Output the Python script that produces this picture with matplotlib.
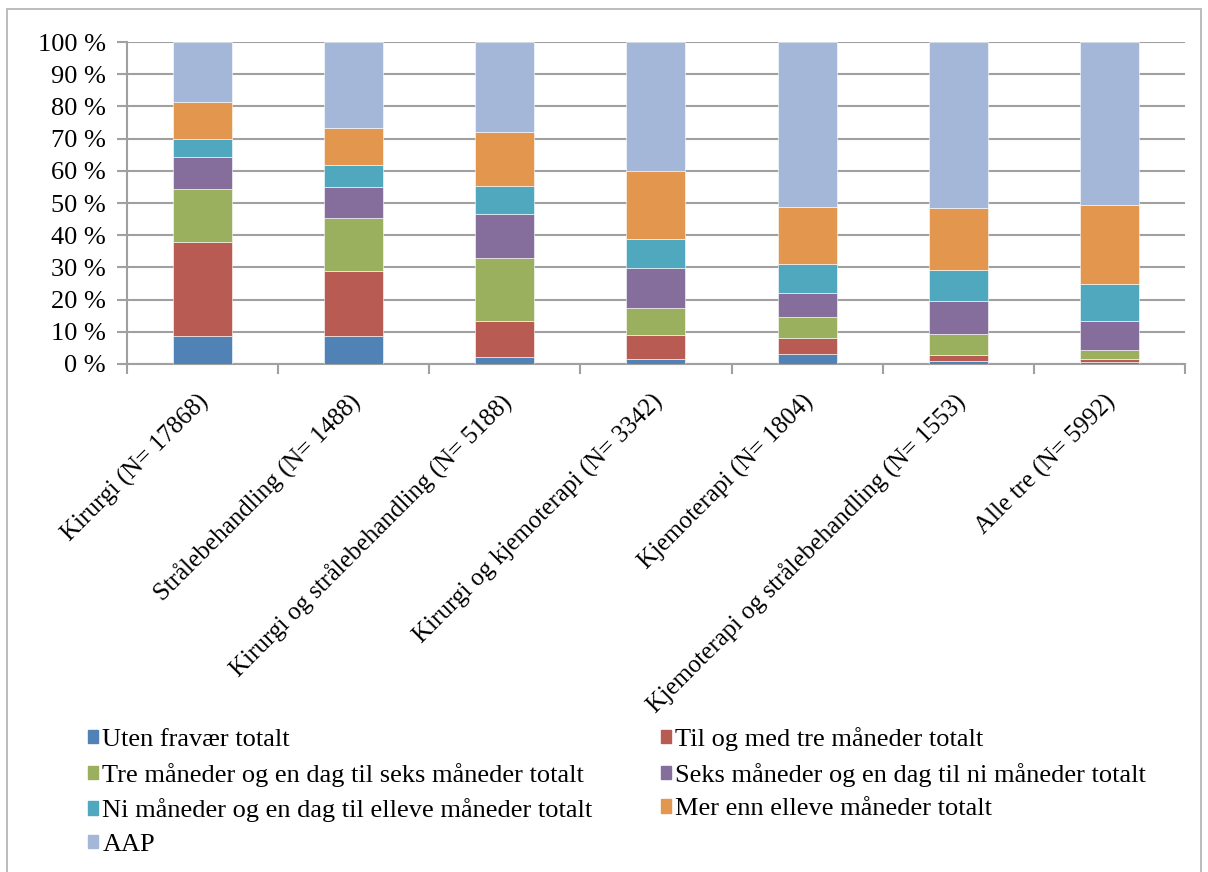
import numpy as np
import matplotlib
matplotlib.use('Agg')
import matplotlib.pyplot as plt
import matplotlib.transforms as mtransforms
from matplotlib.patches import Rectangle, Patch

plt.rcParams['font.family'] = 'Liberation Serif'

# categories and series (percent of each group)
categories = ['Kirurgi (N= 17868)', 'Strålebehandling (N= 1488)',
              'Kirurgi og strålebehandling (N= 5188)', 'Kirurgi og kjemoterapi (N= 3342)',
              'Kjemoterapi (N= 1804)', 'Kjemoterapi og strålebehandling (N= 1553)',
              'Alle tre (N= 5992)']
series_names = ['Uten fravær totalt', 'Til og med tre måneder totalt',
                'Tre måneder og en dag til seks måneder totalt',
                'Seks måneder og en dag til ni måneder totalt',
                'Ni måneder og en dag til elleve måneder totalt',
                'Mer enn elleve måneder totalt', 'AAP']
uten = [8.8, 8.7, 2.1, 1.5, 3.2, 1.0, 0.6]
til_tre = [29.0, 20.2, 11.2, 7.5, 4.8, 1.8, 1.0]
tre_seks = [16.5, 16.5, 19.7, 8.5, 6.6, 6.6, 2.6]
seks_ni = [10.0, 9.7, 13.7, 12.3, 7.4, 10.2, 9.2]
ni_elleve = [5.6, 6.8, 8.6, 9.1, 9.0, 9.7, 11.4]
mer_elleve = [11.4, 11.3, 16.6, 21.1, 17.9, 19.0, 24.5]
aap = [18.7, 26.8, 28.1, 40.0, 51.1, 51.7, 50.7]
colors = ['#5182B5', '#B85B52', '#9BB05E', '#866E9C', '#50A8BF', '#E2964E', '#A4B7D8']

fig = plt.figure(figsize=(12.08, 8.72), dpi=100)
ax = fig.add_axes([0.105, 0.5826, 0.876, 0.3692])

x = np.arange(len(categories))
bottom = np.zeros(len(categories))
for vals, name, c in zip([uten, til_tre, tre_seks, seks_ni, ni_elleve, mer_elleve, aap],
                         series_names, colors):
    ax.bar(x, vals, 0.39, bottom=bottom, color=c, edgecolor='white', linewidth=0.4,
           label=name, zorder=3)
    bottom += np.array(vals)

ax.set_xlim(-0.5, len(categories) - 0.5)
ax.set_ylim(0, 100)
ax.set_yticks(np.arange(0, 101, 10))
ax.set_yticklabels([f'{v} %' for v in range(0, 101, 10)], fontsize=19)
ax.yaxis.grid(True, color='#A0A0A0', linewidth=1.5, zorder=0)
ax.set_xticks(x)
ax.set_xticklabels(categories, rotation=45, ha='right', rotation_mode='anchor', fontsize=18)
ax.tick_params(axis='x', length=0, pad=19)
shift = mtransforms.ScaledTranslation(-5 / 100, 0, fig.dpi_scale_trans)
for lab in ax.get_xticklabels():
    lab.set_transform(lab.get_transform() + shift)
ax.set_xticks(np.arange(-0.5, len(categories) + 0.5, 1), minor=True)
ax.tick_params(axis='x', which='minor', length=7, width=1.5, color='#A0A0A0')
ax.tick_params(axis='y', length=7, width=1.5, color='#A0A0A0', pad=8)
for s in ['top', 'right']:
    ax.spines[s].set_visible(False)
for s in ['left', 'bottom']:
    ax.spines[s].set_color('#A0A0A0')
    ax.spines[s].set_linewidth(1.5)

# legend filled row by row, two columns
handles = [Patch(color=c) for c in colors]
order = [0, 2, 4, 6, 1, 3, 5]
fig.legend([handles[i] for i in order], [series_names[i] for i in order],
           ncol=2, loc='upper left', bbox_to_anchor=(0.0728, 0.166), frameon=False,
           fontsize=19, handlelength=0.4, handleheight=0.4, handletextpad=0.15,
           columnspacing=2.57, labelspacing=0.44, borderpad=0, borderaxespad=0)

fig.patches.append(Rectangle((0.006, -0.01), 0.988, 1.0, transform=fig.transFigure,
                             fill=False, edgecolor='#B0B0B0', linewidth=1.2))

fig.savefig('out.png', dpi=100)
